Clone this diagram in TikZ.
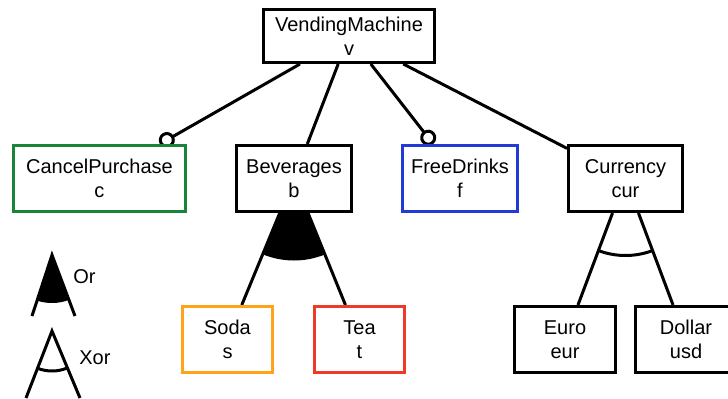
\documentclass[tikz,border=0pt]{standalone}
\usepackage{fontspec}
\setmainfont{Liberation Sans}
\usetikzlibrary{%
    arrows.meta,
    backgrounds,
    calc,
    positioning
}
\definecolor{cancelgreen}{RGB}{28,132,58}
\definecolor{sodaorange}{RGB}{255,163,26}
\definecolor{teared}{RGB}{238,58,40}
\definecolor{freeblue}{RGB}{36,58,214}
\tikzset{feature/.style = {draw, line width=1.5pt, fill=white, align=center,
    inner sep=0pt, minimum height=33pt, font=\fontsize{10}{12}\selectfont}}
\tikzset{link/.style = {line width=1.5pt}}
\tikzset{optional/.style = {link,-{Circle[open,length=8pt,line width=1.5pt]}}}
\tikzset{legendtext/.style = {anchor=west, inner sep=0pt, font=\fontsize{10}{12}\selectfont}}

\begin{document}
\begin{tikzpicture}[x=0.5pt, y=-0.5pt]
    \useasboundingbox (0,0) rectangle (728,398);

    \node[feature, minimum width=85.5pt, minimum height=26.5pt] (vm) at (349,36) {VendingMachine\\v};
    \node[feature, minimum width=86pt, draw=cancelgreen] (cp) at (99.5,178.5) {CancelPurchase\\c};
    \node[feature, minimum width=57.5pt] (bev) at (294,178.5) {Beverages\\b};
    \node[feature, minimum width=57.5pt, draw=freeblue] (fd) at (460,178.5) {FreeDrinks\\f};
    \node[feature, minimum width=57pt] (cur) at (625.5,178.5) {Currency\\cur};
    \node[feature, minimum width=45pt, draw=sodaorange] (soda) at (227.5,339.5) {Soda\\s};
    \node[feature, minimum width=45pt, draw=teared] (tea) at (359.5,339.5) {Tea\\t};
    \node[feature, minimum width=50.5pt] (eur) at (565,339.5) {Euro\\eur};
    \node[feature, minimum width=50.5pt] (usd) at (686,339.5) {Dollar\\usd};

    \begin{scope}[on background layer]
        \foreach \Target in {cp, fd}
            \draw[optional] (vm) to (\Target);
        \foreach \Target in {bev, cur}
            \draw[link] (vm) to (\Target);
        \foreach \Parent/\Child in {bev/soda, bev/tea, cur/eur, cur/usd}
            \draw[link] (\Parent) to (\Child);
        % or group
        \fill let \p1 = ($(soda.center)-(bev.center)$), \p2 = ($(tea.center)-(bev.center)$),
            \n1 = {atan2(\y1,\x1)}, \n2 = {atan2(\y2,\x2)} in
            (bev.center) -- ++(\n1:41pt) arc[start angle=\n1, end angle=\n2, radius=41pt] -- cycle;
        % xor group
        \draw[link] let \p1 = ($(eur.center)-(cur.center)$), \p2 = ($(usd.center)-(cur.center)$),
            \n1 = {atan2(\y1,\x1)}, \n2 = {atan2(\y2,\x2)} in
            (cur.center) ++(\n1:38.5pt) arc[start angle=\n1, end angle=\n2, radius=38.5pt];
    \end{scope}

    % legend
    \coordinate (orapex) at (52,255);
    \coordinate (orleft) at (32,316);
    \coordinate (orright) at (75,316);
    \coordinate (xorapex) at (52,331);
    \coordinate (xorleft) at (26,398);
    \coordinate (xorright) at (80,398);

    \fill let \p1 = ($(orleft)-(orapex)$), \p2 = ($(orright)-(orapex)$),
        \n1 = {atan2(\y1,\x1)}, \n2 = {atan2(\y2,\x2)} in
        (orapex) -- ++(\n1:24pt) arc[start angle=\n1, end angle=\n2, radius=24pt] -- cycle;
    \draw[link] (orleft) -- (orapex) -- (orright);
    \draw[link] let \p1 = ($(xorleft)-(xorapex)$), \p2 = ($(xorright)-(xorapex)$),
        \n1 = {atan2(\y1,\x1)}, \n2 = {atan2(\y2,\x2)} in
        (xorapex) ++(\n1:20pt) arc[start angle=\n1, end angle=\n2, radius=20pt];
    \draw[link] (xorleft) -- (xorapex) -- (xorright);

    \node[legendtext] (orlabel) at (73,277) {Or};
    \node[legendtext] (xorlabel) at (79,358) {Xor};
\end{tikzpicture}
\end{document}
